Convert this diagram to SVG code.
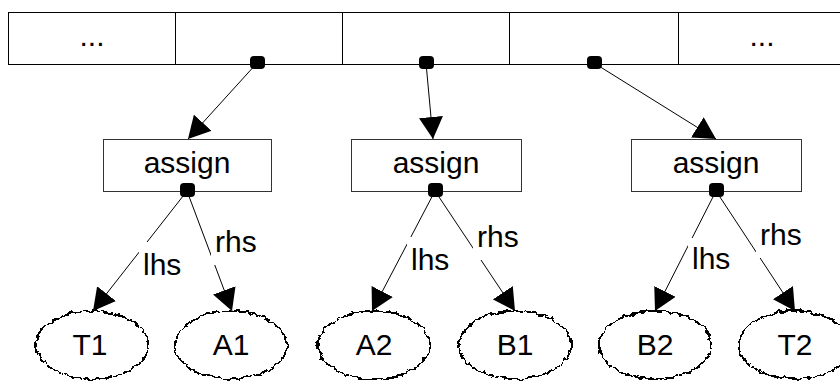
<svg xmlns="http://www.w3.org/2000/svg" width="840" height="381" viewBox="0 0 840 381">
  <style>
    .box { fill: #fff; stroke: #000; stroke-width: 1; }
    .abox { fill: #fff; stroke: #333; stroke-width: 1; }
    .txt { font-family: "Liberation Sans", Arial, sans-serif; font-size: 30px; fill: #000; text-anchor: middle; }
    .lbl { font-family: "Liberation Sans", Arial, sans-serif; font-size: 30px; fill: #000; }
    .edge { stroke: #000; stroke-width: 1; fill: none; marker-end: url(#ah); }
    .bg { fill: #fff; stroke: none; }
    .ell { fill: #fff; stroke: #000; stroke-width: 1.8; filter: url(#rough); }
    .dot { fill: #000; }
  </style>
  <defs>
    <marker id="ah" markerUnits="userSpaceOnUse" viewBox="0 0 22 24" refX="22" refY="12" markerWidth="22" markerHeight="24" orient="auto">
      <path d="M0,0 L22,12 L0,24 z" fill="#000"/>
    </marker>
    <filter id="rough" x="-20%" y="-20%" width="140%" height="140%" color-interpolation-filters="sRGB">
      <feTurbulence type="fractalNoise" baseFrequency="0.16" numOctaves="2" seed="4" result="n"/>
      <feDisplacementMap in="SourceGraphic" in2="n" scale="6" xChannelSelector="R" yChannelSelector="G" result="d"/>
      <feComponentTransfer in="d">
        <feFuncR type="discrete" tableValues="0 1"/>
        <feFuncG type="discrete" tableValues="0 1"/>
        <feFuncB type="discrete" tableValues="0 1"/>
        <feFuncA type="discrete" tableValues="0 1"/>
      </feComponentTransfer>
    </filter>
  </defs>
  <rect width="840" height="381" fill="#fff"/>

  <g id="array">
    <g id="cell0"><rect class="box" x="8.5" y="12.5" width="167" height="52"/><text class="txt" x="92" y="46">...</text></g>
    <g id="cell1"><rect class="box" x="175.5" y="12.5" width="167" height="52"/></g>
    <g id="cell2"><rect class="box" x="342.5" y="12.5" width="167" height="52"/></g>
    <g id="cell3"><rect class="box" x="509.5" y="12.5" width="169" height="52"/></g>
    <g id="cell4"><rect class="box" x="678.5" y="12.5" width="168" height="52"/><text class="txt" x="762" y="46">...</text></g>
  </g>

  <g id="assign1"><rect class="abox" x="103.5" y="139.5" width="168" height="52"/><text class="txt" x="187" y="173">assign</text></g>
  <g id="assign2"><rect class="abox" x="351.5" y="139.5" width="170" height="52"/><text class="txt" x="436" y="173">assign</text></g>
  <g id="assign3"><rect class="abox" x="631.5" y="139.5" width="170" height="52"/><text class="txt" x="716" y="173">assign</text></g>

  <g id="T1"><ellipse class="ell" cx="92" cy="345" rx="56" ry="34"/><text class="txt" x="90" y="355">T1</text></g>
  <g id="A1"><ellipse class="ell" cx="231" cy="345" rx="56" ry="34"/><text class="txt" x="231" y="355">A1</text></g>
  <g id="A2"><ellipse class="ell" cx="374" cy="345" rx="56" ry="34"/><text class="txt" x="374" y="355">A2</text></g>
  <g id="B1"><ellipse class="ell" cx="515" cy="345" rx="56" ry="34"/><text class="txt" x="515" y="355">B1</text></g>
  <g id="B2"><ellipse class="ell" cx="655" cy="345" rx="56" ry="34"/><text class="txt" x="655" y="355">B2</text></g>
  <g id="T2"><ellipse class="ell" cx="795" cy="345" rx="56" ry="34"/><text class="txt" x="795" y="355">T2</text></g>

  <g id="connectors">
    <line class="edge" x1="257" y1="63" x2="188" y2="139"/>
    <line class="edge" x1="426" y1="63" x2="433" y2="139"/>
    <line class="edge" x1="594" y1="63" x2="716" y2="139"/>

    <line class="edge" x1="187" y1="191" x2="93" y2="311"/>
    <line class="edge" x1="187" y1="191" x2="232" y2="311"/>
    <line class="edge" x1="435" y1="191" x2="372" y2="311"/>
    <line class="edge" x1="435" y1="191" x2="515" y2="311"/>
    <line class="edge" x1="716" y1="191" x2="655" y2="311"/>
    <line class="edge" x1="716" y1="191" x2="795" y2="311"/>

    <rect class="bg" x="139" y="242" width="45" height="46"/>
    <text class="lbl" x="143" y="275">lhs</text>
    <rect class="bg" x="211" y="219" width="51" height="46"/>
    <text class="lbl" x="215" y="252">rhs</text>
    <rect class="bg" x="407" y="237" width="45" height="46"/>
    <text class="lbl" x="411" y="270">lhs</text>
    <rect class="bg" x="473" y="214" width="51" height="46"/>
    <text class="lbl" x="477" y="247">rhs</text>
    <rect class="bg" x="688" y="238" width="45" height="44"/>
    <text class="lbl" x="692" y="269">lhs</text>
    <rect class="bg" x="756" y="212" width="51" height="46"/>
    <text class="lbl" x="760" y="245">rhs</text>

    <rect class="dot" x="250" y="56" width="15" height="13" rx="4"/>
    <rect class="dot" x="419" y="56" width="15" height="13" rx="4"/>
    <rect class="dot" x="587" y="56" width="15" height="13" rx="4"/>
    <rect class="dot" x="180" y="183" width="15" height="14" rx="4"/>
    <rect class="dot" x="428" y="183" width="15" height="14" rx="4"/>
    <rect class="dot" x="709" y="183" width="15" height="14" rx="4"/>
  </g>
</svg>
